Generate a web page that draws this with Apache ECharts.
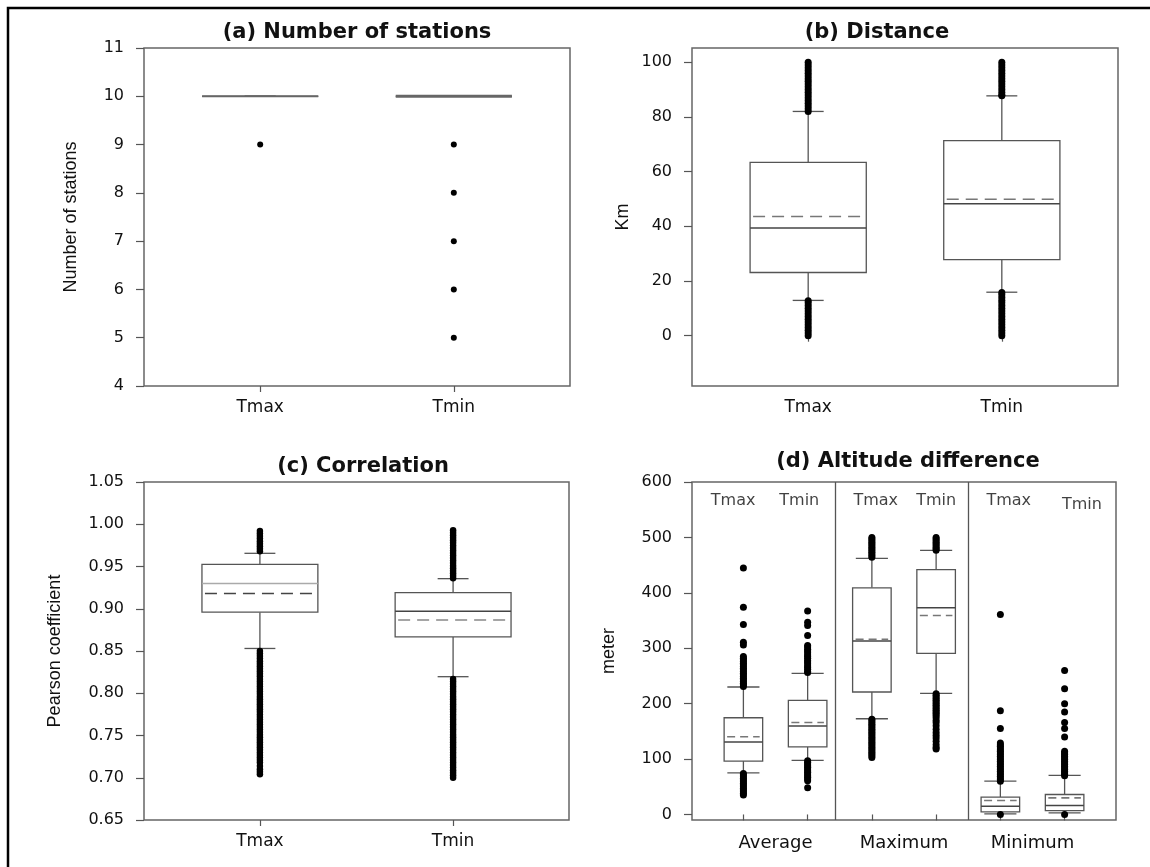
<!DOCTYPE html>
<html><head><meta charset="utf-8">
<script src="https://cdn.jsdelivr.net/npm/echarts@6/dist/echarts.min.js"></script>
<style>html,body{margin:0;padding:0;background:#fff}#c{width:1150px;height:867px}</style>
</head><body><div id="c"></div>
<script>
// ---------- DATA ----------
const tempCats = ['Tmax', 'Tmin'];
const groupCats = ['Average', 'Maximum', 'Minimum'];
const subCats = ['Tmax', 'Tmin', 'Tmax', 'Tmin', 'Tmax', 'Tmin'];

// tick labels
const aTicks = [4, 5, 6, 7, 8, 9, 10, 11];
const bTicks = [0, 20, 40, 60, 80, 100];
const cTicks = [0.65, 0.70, 0.75, 0.80, 0.85, 0.90, 0.95, 1.00, 1.05];
const dTicks = [0, 100, 200, 300, 400, 500, 600];

// (a) Number of stations
const aLow = [10, 10], aQ1 = [10, 10], aMedian = [10, 10], aQ3 = [10, 10], aHigh = [10, 10];
const aOutTmax = [9];
const aOutTmin = [9, 8, 7, 6, 5];

// (b) Distance (km)
const bLow = [12.9, 15.9];
const bQ1 = [23.1, 27.8];
const bMedian = [39.4, 48.2];
const bMean = [43.6, 49.9];
const bQ3 = [63.4, 71.3];
const bHigh = [82.0, 87.7];
const bOutTmax = [100, 99, 98, 97, 96, 95, 94, 93, 92, 91, 90, 89, 88, 87, 86, 85, 84, 83, 82,
  12.8, 12, 11, 10, 9, 8, 7, 6, 5, 4, 3, 2, 1, 0];
const bOutTmin = [100, 99, 98, 97, 96, 95, 94, 93, 92, 91, 90, 89, 88, 87.7,
  15.8, 15, 14, 13, 12, 11, 10, 9, 8, 7, 6, 5, 4, 3, 2, 1, 0];

// (c) Correlation
const cLow = [0.853, 0.8196];
const cQ1 = [0.896, 0.8666];
const cMedian = [0.930, 0.897];
const cMean = [0.918, 0.8867];
const cQ3 = [0.9526, 0.919];
const cHigh = [0.9656, 0.9356];
const cOutTmax = [0.992, 0.989, 0.986, 0.983, 0.980, 0.977, 0.974, 0.971, 0.968,
  0.850, 0.847, 0.844, 0.841, 0.838, 0.835, 0.832, 0.829, 0.826, 0.823, 0.820, 0.817, 0.814,
  0.811, 0.808, 0.805, 0.802, 0.799, 0.796, 0.793, 0.790, 0.787, 0.784, 0.781, 0.778, 0.775,
  0.772, 0.769, 0.766, 0.763, 0.760, 0.757, 0.754, 0.751, 0.748, 0.745, 0.742, 0.739, 0.736,
  0.733, 0.730, 0.727, 0.724, 0.721, 0.718, 0.714, 0.710, 0.707, 0.704];
const cOutTmin = [0.993, 0.990, 0.987, 0.984, 0.981, 0.978, 0.975, 0.972, 0.969, 0.966, 0.963,
  0.960, 0.957, 0.954, 0.951, 0.948, 0.945, 0.942, 0.939, 0.936,
  0.817, 0.814, 0.811, 0.808, 0.805, 0.802, 0.799, 0.796, 0.793, 0.790, 0.787, 0.784, 0.781,
  0.778, 0.775, 0.772, 0.769, 0.766, 0.763, 0.760, 0.757, 0.754, 0.751, 0.748, 0.745, 0.742,
  0.739, 0.736, 0.733, 0.730, 0.727, 0.724, 0.721, 0.718, 0.715, 0.712, 0.709, 0.706, 0.703, 0.700];

// (d) Altitude difference (m): Average Tmax, Average Tmin, Maximum Tmax, Maximum Tmin, Minimum Tmax, Minimum Tmin
const dLow = [75, 97.5, 172.7, 218.5, 1.2, 3];
const dQ1 = [96.3, 122, 221, 290.7, 4.8, 7];
const dMedian = [130.6, 159.5, 313, 373, 15, 16];
const dMean = [140.2, 166, 316, 359, 25.3, 30];
const dQ3 = [174.5, 205.8, 409, 441.7, 31.3, 36];
const dHigh = [230, 254.6, 462, 476.6, 60, 70.4];
const dOutAvgTmax = [445, 374, 343, 311, 306, 285, 282, 279, 276, 273, 270, 267, 264, 261, 258, 255,
  252, 249, 246, 243, 240, 237, 234, 231, 74, 71, 68, 65, 62, 59, 56, 53, 50, 47, 44, 41, 38, 35];
const dOutAvgTmin = [367, 347, 341, 323, 305, 302, 298, 295, 292, 288, 285, 282, 278, 275, 272, 268,
  265, 262, 258, 256, 97, 94, 91, 88, 85, 82, 79, 76, 73, 70, 67, 64, 61, 48];
const dOutMaxTmax = [500, 497, 494, 491, 488, 485, 482, 479, 476, 473, 470, 467, 464,
  172, 169, 166, 163, 160, 157, 154, 151, 148, 145, 142, 139, 136, 133, 130, 127, 124, 121, 118,
  115, 112, 109, 106, 103];
const dOutMaxTmin = [500, 497, 494, 491, 488, 485, 482, 479, 477,
  218, 215, 212, 209, 206, 203, 200, 197, 194, 191, 188, 185, 182, 179, 175, 170, 166, 160, 154,
  148, 143, 138, 132, 126, 121, 118];
const dOutMinTmax = [361, 187, 155, 129, 126, 123, 120, 117, 114, 111, 108, 105, 102, 99, 96, 93,
  90, 87, 84, 81, 78, 75, 72, 69, 66, 63, 60, 0];
const dOutMinTmin = [260, 227, 200, 185, 166, 155, 140, 114, 111, 108, 105, 102, 99, 96, 93, 90,
  87, 84, 81, 78, 75, 72, 70, 0];

// ---------- LAYOUT / STYLE ----------
const FONT = 'DejaVu Sans';
const NAMEFONT = 'Liberation Sans';
const EDGE = '#555';
const dTopLabelPos = [[0.84, 566], [1.87, 566], [3.06, 566], [4.0, 566], [5.13, 566], [6.27, 559]];
const dDividers = [2.43, 4.5];

function boxData(low, q1, med, q3, high, mean) {
  return low.map((v, i) => [i + 1, low[i], q1[i], med[i], q3[i], high[i], mean ? mean[i] : NaN]);
}
function outData(idx, arr) { return arr.map(v => [idx, v]); }

function makeRender(boxHalf, capHalf, dash, medColors, meanColors, medWidths) {
  return function (params, api) {
    const x = api.value(0);
    const c = (xx, yy) => api.coord([xx, yy]);
    const xc = c(x, 0)[0];
    const xl = c(x - boxHalf, 0)[0], xr = c(x + boxHalf, 0)[0];
    const cl = c(x - capHalf, 0)[0], cr = c(x + capHalf, 0)[0];
    const yLow = c(x, api.value(1))[1], yQ1 = c(x, api.value(2))[1], yMed = c(x, api.value(3))[1];
    const yQ3 = c(x, api.value(4))[1], yHigh = c(x, api.value(5))[1];
    const mean = api.value(6);
    const st = { stroke: EDGE, lineWidth: 1.3, fill: null };
    const i = params.dataIndex;
    const ch = [
      { type: 'line', shape: { x1: xc, y1: yLow, x2: xc, y2: yQ1 }, style: st },
      { type: 'line', shape: { x1: xc, y1: yQ3, x2: xc, y2: yHigh }, style: st },
      { type: 'line', shape: { x1: cl, y1: yLow, x2: cr, y2: yLow }, style: st },
      { type: 'line', shape: { x1: cl, y1: yHigh, x2: cr, y2: yHigh }, style: st },
      { type: 'rect', shape: { x: xl, y: yQ3, width: xr - xl, height: yQ1 - yQ3 }, style: { stroke: EDGE, lineWidth: 1.3, fill: '#fff' } },
      { type: 'line', shape: { x1: xl, y1: yMed, x2: xr, y2: yMed },
        style: { stroke: medColors ? medColors[i] : '#444', lineWidth: medWidths ? medWidths[i] : 1.5 } }
    ];
    if (!isNaN(mean)) {
      const yMean = c(x, mean)[1];
      ch.push({ type: 'line', shape: { x1: xl + 3, y1: yMean, x2: xr - 3, y2: yMean },
        style: { stroke: meanColors ? meanColors[i] : '#777', lineWidth: 1.6, lineDash: dash } });
    }
    return { type: 'group', children: ch };
  };
}

function yAxisCfg(gi, min, max, ticks, name, gap, fmt) {
  return {
    type: 'value', gridIndex: gi, min, max, name, nameLocation: 'middle', nameGap: gap, nameRotate: 90,
    nameTextStyle: { fontFamily: NAMEFONT, fontSize: 18, color: '#111' },
    axisLine: { show: false }, splitLine: { show: false },
    axisTick: { show: true, customValues: ticks, length: 8, lineStyle: { color: EDGE, width: 1.2 } },
    axisLabel: { customValues: ticks, margin: 20, fontFamily: FONT, fontSize: 16, color: '#111', formatter: fmt }
  };
}
function xAxisCfg(gi, min, max, tickVals, labelVals, fmt, fs, margin) {
  return {
    type: 'value', gridIndex: gi, min, max,
    axisLine: { show: false }, splitLine: { show: false },
    axisTick: { show: true, customValues: tickVals, length: 6, lineStyle: { color: EDGE, width: 1.2 } },
    axisLabel: { customValues: labelVals, formatter: fmt, margin, fontFamily: FONT, fontSize: fs, color: '#111' }
  };
}
const gridStyle = { show: true, borderColor: '#666', borderWidth: 1.5, backgroundColor: 'transparent' };
const scatterStyle = { symbol: 'circle', symbolSize: 7, itemStyle: { color: '#000', opacity: 1 }, z: 3 };

const chart = echarts.init(document.getElementById('c'), null, { renderer: 'canvas' });
const tempFmt = v => tempCats[Math.round(v) - 1];

const option = {
  animation: false,
  backgroundColor: '#fff',
  graphic: [{ type: 'rect', shape: { x: 8, y: 8, width: 1300, height: 1000 }, style: { fill: 'none', stroke: '#000', lineWidth: 2.5 }, silent: true }],
  title: [
    { text: '(a) Number of stations', left: 352, top: 17, textAlign: 'center' },
    { text: '(b) Distance', left: 872, top: 17, textAlign: 'center' },
    { text: '(c) Correlation', left: 358, top: 451, textAlign: 'center' },
    { text: '(d) Altitude difference', left: 903, top: 446, textAlign: 'center' }
  ].map(t => Object.assign(t, { textStyle: { fontFamily: FONT, fontWeight: 'bold', fontSize: 21, color: '#111' } })),
  grid: [
    Object.assign({ left: 144, top: 48, width: 426, height: 338 }, gridStyle),
    Object.assign({ left: 692, top: 48, width: 426, height: 338 }, gridStyle),
    Object.assign({ left: 144, top: 482, width: 425, height: 338 }, gridStyle),
    Object.assign({ left: 692, top: 482, width: 424, height: 338 }, gridStyle)
  ],
  xAxis: [
    xAxisCfg(0, 0.4, 2.6, [1, 2], [1, 2], tempFmt, 17, 13),
    xAxisCfg(1, 0.4, 2.6, [1, 2], [1, 2], tempFmt, 17, 13),
    xAxisCfg(2, 0.4, 2.6, [1, 2], [1, 2], tempFmt, 17, 13),
    xAxisCfg(3, 0.2, 6.8, [1, 2, 3, 4, 5, 6], [1.5, 3.5, 5.5], v => groupCats[Math.round((v - 1.5) / 2)], 18, 14)
  ],
  yAxis: [
    yAxisCfg(0, 4, 11, aTicks, 'Number of stations', 64, v => String(v)),
    yAxisCfg(1, -18.4, 105.2, bTicks, 'Km', 60, v => String(v)),
    yAxisCfg(2, 0.65, 1.05, cTicks, 'Pearson coefficient', 80, v => v.toFixed(2)),
    yAxisCfg(3, -10, 600, dTicks, 'meter', 74, v => String(v))
  ],
  series: [
    { type: 'custom', xAxisIndex: 0, yAxisIndex: 0, renderItem: makeRender(0.3, 0.08, [12, 7], ['#666', '#666'], null, [2, 3]),
      data: boxData(aLow, aQ1, aMedian, aQ3, aHigh, null), z: 2 },
    Object.assign({ type: 'scatter', xAxisIndex: 0, yAxisIndex: 0, data: outData(1, aOutTmax).concat(outData(2, aOutTmin)) }, scatterStyle, { symbolSize: 6 }),

    { type: 'custom', xAxisIndex: 1, yAxisIndex: 1, renderItem: makeRender(0.3, 0.08, [12, 7]),
      data: boxData(bLow, bQ1, bMedian, bQ3, bHigh, bMean), z: 2 },
    Object.assign({ type: 'scatter', xAxisIndex: 1, yAxisIndex: 1, data: outData(1, bOutTmax).concat(outData(2, bOutTmin)) }, scatterStyle),

    { type: 'custom', xAxisIndex: 2, yAxisIndex: 2, renderItem: makeRender(0.3, 0.08, [12, 7], ['#aaa', '#444'], ['#444', '#888']),
      data: boxData(cLow, cQ1, cMedian, cQ3, cHigh, cMean), z: 2 },
    Object.assign({ type: 'scatter', xAxisIndex: 2, yAxisIndex: 2, data: outData(1, cOutTmax).concat(outData(2, cOutTmin)) }, scatterStyle, { symbolSize: 6.5 }),

    { type: 'custom', xAxisIndex: 3, yAxisIndex: 3, renderItem: makeRender(0.3, 0.25, [8, 5]),
      data: boxData(dLow, dQ1, dMedian, dQ3, dHigh, dMean), z: 2,
      markLine: { silent: true, symbol: 'none', label: { show: false },
        lineStyle: { color: EDGE, width: 1.3, type: 'solid' },
        data: dDividers.map(v => ({ xAxis: v })) } },
    Object.assign({ type: 'scatter', xAxisIndex: 3, yAxisIndex: 3,
      data: [].concat(outData(1, dOutAvgTmax), outData(2, dOutAvgTmin), outData(3, dOutMaxTmax),
        outData(4, dOutMaxTmin), outData(5, dOutMinTmax), outData(6, dOutMinTmin)) }, scatterStyle),
    { type: 'scatter', xAxisIndex: 3, yAxisIndex: 3, symbolSize: 0, silent: true,
      data: subCats.map((n, i) => ({ name: n, value: dTopLabelPos[i] })),
      label: { show: true, position: 'inside', formatter: p => p.name, fontFamily: FONT, fontSize: 16, color: '#111' } }
  ]
};
chart.setOption(option);
</script></body></html>
